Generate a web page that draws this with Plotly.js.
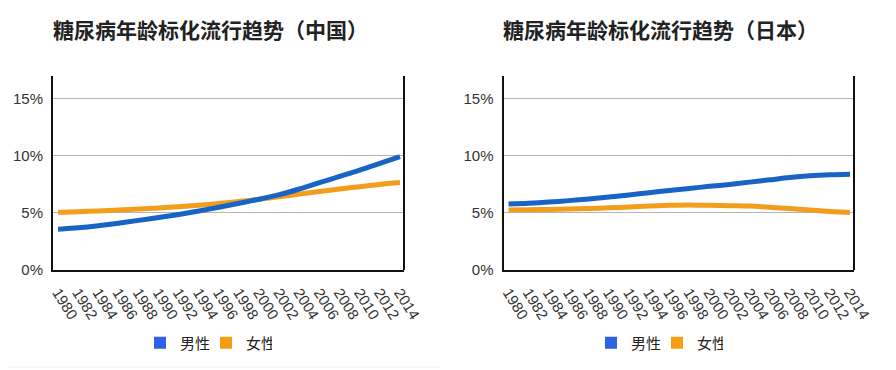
<!DOCTYPE html>
<html>
<head>
<meta charset="utf-8">
<script src="https://cdn.plot.ly/plotly-3.0.1.min.js"></script>
<style>
  html, body { margin: 0; padding: 0; background: #ffffff; }
  #chart { width: 896px; height: 370px; }
</style>
</head>
<body>
<div id="chart"></div>
<script>
// ---- data ----
var years = [1980, 1982, 1984, 1986, 1988, 1990, 1992, 1994, 1996, 1998, 2000, 2002, 2004, 2006, 2008, 2010, 2012, 2014];
var chinaMale   = [3.57, 3.70, 3.88, 4.10, 4.35, 4.60, 4.87, 5.17, 5.50, 5.85, 6.20, 6.60, 7.10, 7.65, 8.20, 8.75, 9.35, 9.94];
var chinaFemale = [5.05, 5.10, 5.18, 5.26, 5.34, 5.44, 5.55, 5.67, 5.82, 6.00, 6.20, 6.42, 6.65, 6.88, 7.10, 7.30, 7.50, 7.66];
var japanMale   = [5.78, 5.85, 5.95, 6.08, 6.23, 6.40, 6.58, 6.77, 6.97, 7.15, 7.33, 7.50, 7.70, 7.90, 8.10, 8.25, 8.34, 8.39];
var japanFemale = [5.26, 5.28, 5.31, 5.34, 5.38, 5.45, 5.52, 5.60, 5.67, 5.70, 5.67, 5.64, 5.60, 5.50, 5.38, 5.25, 5.13, 5.03];
var yTicks = [0, 5, 10, 15];
var yTickLabels = ['0%', '5%', '10%', '15%'];
var seriesNames = ['男性', '女性'];
var titles = ['糖尿病年龄标化流行趋势（中国）', '糖尿病年龄标化流行趋势（日本）'];

var lineBlue = '#1763c6';
var lineOrange = '#f29d1b';
var legBlue = '#2d62e6';
var legOrange = '#f59e14';

function lineTrace(y, color, xa, ya) {
  return { x: years, y: y, type: 'scatter', mode: 'lines', xaxis: xa, yaxis: ya,
    line: { color: color, width: 5, shape: 'spline', smoothing: 0.8 }, showlegend: false, hoverinfo: 'skip' };
}
function legTrace(name, color, leg) {
  return { x: [null], y: [null], type: 'scatter', mode: 'markers', name: name, legend: leg,
    marker: { symbol: 'square', size: 12, color: color }, showlegend: true };
}

var data = [
  lineTrace(chinaFemale, lineOrange, 'x', 'y'),
  lineTrace(chinaMale, lineBlue, 'x', 'y'),
  lineTrace(japanFemale, lineOrange, 'x2', 'y2'),
  lineTrace(japanMale, lineBlue, 'x2', 'y2'),
  legTrace(seriesNames[0], legBlue, 'legend'),
  legTrace(seriesNames[1], legOrange, 'legend'),
  legTrace(seriesNames[0], legBlue, 'legend2'),
  legTrace(seriesNames[1], legOrange, 'legend2')
];

var tickFont = { family: '"Liberation Sans Narrow", "Arial Narrow", "Liberation Sans", Arial, sans-serif', size: 15, color: '#333333' };

function xAxis(domain, anchor) {
  return { domain: domain, anchor: anchor, range: [1979.5, 2014.4], tickvals: years, tickangle: 58,
    showgrid: false, zeroline: false, showline: true, linecolor: '#111111', linewidth: 2,
    ticks: '', ticklabelstandoff: 6, tickfont: tickFont, fixedrange: true };
}
function yAxis(domain, anchor) {
  return { domain: domain, anchor: anchor, range: [0, 17], tickvals: yTicks, ticktext: yTickLabels,
    showgrid: true, gridcolor: '#b5b5b5', gridwidth: 1, zeroline: false, showline: true,
    linecolor: '#111111', linewidth: 2, ticks: '', ticklabelstandoff: 5, tickfont: tickFont, fixedrange: true };
}

var yDom = [1 - 270 / 370, 1 - 76 / 370];
var legFont = { family: '"Noto Sans CJK SC", sans-serif', size: 15, color: '#222222' };

var layout = {
  width: 896, height: 370,
  margin: { l: 0, r: 0, t: 0, b: 0 },
  paper_bgcolor: '#ffffff', plot_bgcolor: '#ffffff',
  showlegend: true,
  xaxis: xAxis([53 / 896, 404 / 896], 'y'),
  yaxis: yAxis(yDom, 'x'),
  xaxis2: xAxis([503.5 / 896, 854 / 896], 'y2'),
  yaxis2: yAxis(yDom, 'x2'),
  legend: { orientation: 'h', x: 140 / 896, xanchor: 'left', y: 1 - 343 / 370, yanchor: 'middle',
    font: legFont, bgcolor: 'rgba(0,0,0,0)', entrywidth: 21, entrywidthmode: 'pixels',
    itemclick: false, itemdoubleclick: false },
  legend2: { orientation: 'h', x: 591 / 896, xanchor: 'left', y: 1 - 343 / 370, yanchor: 'middle',
    font: legFont, bgcolor: 'rgba(0,0,0,0)', entrywidth: 21, entrywidthmode: 'pixels',
    itemclick: false, itemdoubleclick: false },
  shapes: [
    { type: 'line', xref: 'x domain', yref: 'y domain', x0: 1, x1: 1, y0: 0, y1: 1, line: { color: '#111111', width: 2 } },
    { type: 'line', xref: 'x2 domain', yref: 'y2 domain', x0: 1, x1: 1, y0: 0, y1: 1, line: { color: '#111111', width: 2 } },
    { type: 'line', xref: 'paper', yref: 'paper', x0: 8 / 896, x1: 440 / 896, y0: 1 - 367 / 370, y1: 1 - 367 / 370, line: { color: '#eeeeee', width: 1 } }
  ],
  annotations: [
    { text: '<b>' + titles[0] + '</b>', xref: 'paper', yref: 'paper', x: 51 / 896, y: 1 - 29 / 370,
      xanchor: 'left', yanchor: 'middle', showarrow: false,
      font: { family: '"Noto Sans CJK SC", sans-serif', size: 21, color: '#222222' } },
    { text: '<b>' + titles[1] + '</b>', xref: 'paper', yref: 'paper', x: 501 / 896, y: 1 - 29 / 370,
      xanchor: 'left', yanchor: 'middle', showarrow: false,
      font: { family: '"Noto Sans CJK SC", sans-serif', size: 21, color: '#222222' } }
  ]
};

Plotly.newPlot('chart', data, layout, { staticPlot: true, displayModeBar: false });
</script>
</body>
</html>
